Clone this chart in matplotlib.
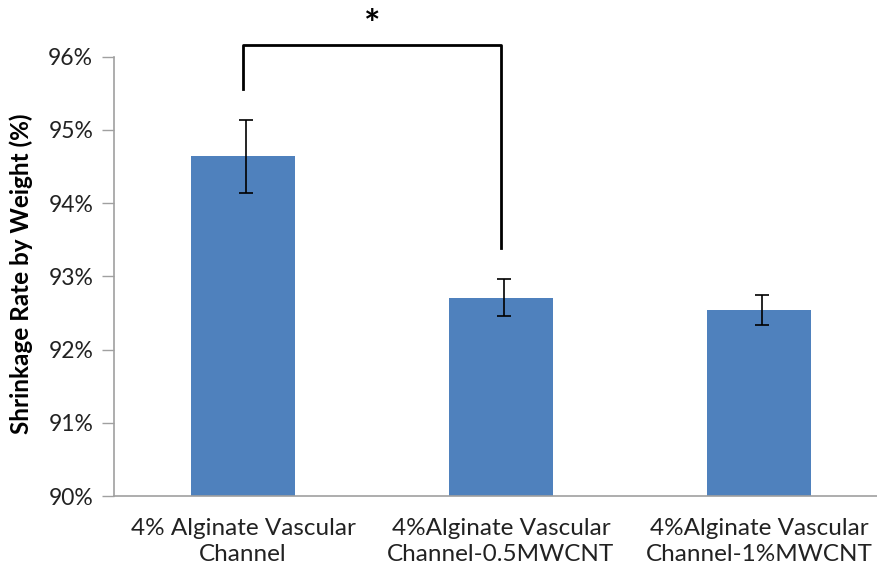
import numpy as np
import matplotlib.pyplot as plt
from matplotlib.ticker import FuncFormatter

# Data
groups = ['4% Alginate Vascular\nChannel',
          '4%Alginate Vascular\nChannel-0.5MWCNT',
          '4%Alginate Vascular\nChannel-1%MWCNT']
shrinkage = [94.64, 92.71, 92.54]
errors = [0.50, 0.255, 0.20]

plt.rcParams['font.family'] = ['Lato', 'DejaVu Sans']

fig = plt.figure(figsize=(8.77, 5.71), dpi=100)
ax = fig.add_axes([0.13, 0.1313, 0.8825, 0.7694])

x = np.arange(len(groups))
ax.bar(x, shrinkage, width=0.4, color='#4F81BD', zorder=2)
ax.errorbar(x + 0.01, shrinkage, yerr=errors, fmt='none', ecolor='black',
            elinewidth=1.2, capsize=5, capthick=1.2, zorder=3)

ax.set_xlim(-0.5, 2.5)
ax.set_ylim(90, 96)
ax.set_yticks(np.arange(90, 97, 1))
ax.yaxis.set_major_formatter(FuncFormatter(lambda v, p: f'{v:.0f}%'))
ax.set_xticks(x)
ax.set_xticklabels(groups, fontsize=17.5, color='#222222', linespacing=1.3)
ax.tick_params(axis='x', length=0, pad=16)
ax.tick_params(axis='y', length=9, width=1, color='#A0A0A0', labelsize=16.5,
               labelcolor='#222222', pad=6)

for s in ['top', 'right']:
    ax.spines[s].set_visible(False)
for s in ['left', 'bottom']:
    ax.spines[s].set_color('#A0A0A0')
    ax.spines[s].set_linewidth(1.2)

ax.set_ylabel('Shrinkage Rate by Weight (%)', fontsize=17.5, fontweight='bold')
ax.yaxis.set_label_coords(-0.105, 0.505)

# significance bracket between first two bars
ax.plot([0, 0, 1, 1], [95.56, 96.16, 96.16, 93.39], color='black', lw=2,
        clip_on=False, zorder=4)
ax.text(0.5, 96.42, '*', ha='center', va='center', fontsize=28,
        fontweight='bold')

fig.savefig('out.png', dpi=100)
